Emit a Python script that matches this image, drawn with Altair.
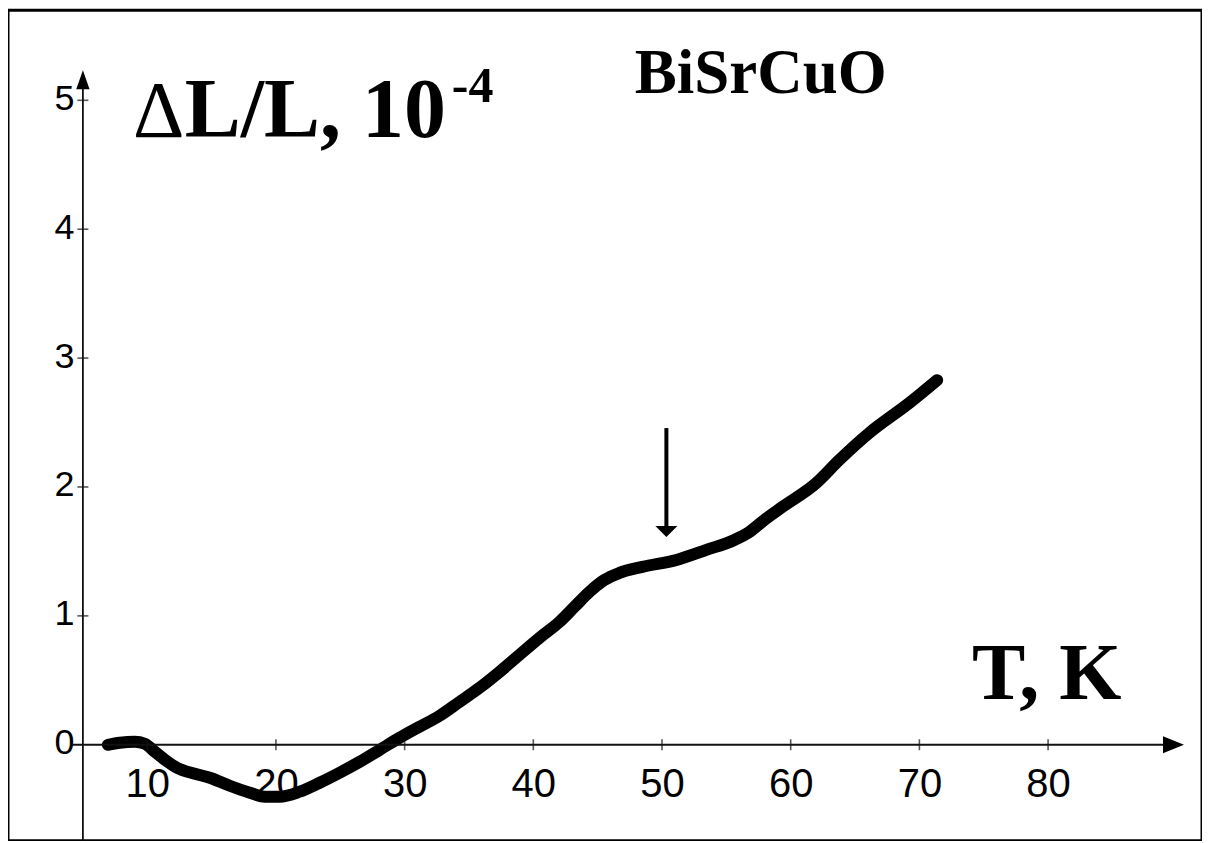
import altair as alt
import pandas as pd

# ---- measured curve: temperature (K) vs relative elongation dL/L (1e-4) ----
temperature_k = [6.94, 7.87, 9.04, 9.81, 10.59, 11.37, 12.30, 13.70, 14.86, 16.41,
                 17.97, 19.13, 20.30, 21.85, 23.40, 24.95, 26.51, 28.06, 29.61, 31.16,
                 32.72, 34.27, 35.82, 37.38, 38.93, 40.48, 42.03, 43.20, 44.36, 45.53,
                 46.69, 48.48, 51.12, 53.45, 55.62, 56.79, 57.95, 59.35, 61.99, 63.77,
                 66.10, 69.21, 71.38]
dl_over_l = [0.00, 0.016, 0.023, 0.008, -0.054, -0.116, -0.178, -0.225, -0.256, -0.318,
             -0.372, -0.403, -0.403, -0.364, -0.295, -0.217, -0.132, -0.039, 0.054, 0.140,
             0.225, 0.333, 0.442, 0.566, 0.698, 0.829, 0.953, 1.070, 1.186, 1.279,
             1.333, 1.380, 1.434, 1.512, 1.589, 1.651, 1.744, 1.845, 2.031, 2.209,
             2.419, 2.651, 2.829]

x_tick_values = [10, 20, 30, 40, 50, 60, 70, 80]
y_tick_values = [0, 1, 2, 3, 4, 5]
y_minor_ticks = [1, 2, 3, 4, 5]

x_domain = [-0.82, 91.96]
y_domain = [-0.744, 5.698]

# axis geometry (data units)
axis_cross_t = [5]
x_axis_span = [4.15, 89.0]
y_axis_span = [-0.744, 5.10]
x_arrow_tip = [90.56]
y_arrow_tip = [5.233]

# arrow marking the anomaly
marker_t = [50.34]
marker_top = [2.457]
marker_base = [1.69]
marker_tip = [1.612]

# annotation texts and anchors (data units)
delta_text = ["\u0394"]
delta_pos = [8.89, 4.713]
ylabel_text = ["L/L, 10"]
ylabel_pos = [12.92, 4.713]
ylabel_exp = ["-4"]
ylabel_exp_pos = [33.67, 4.984]
sample_text = ["BiSrCuO"]
sample_pos = [47.89, 5.054]
xlabel_text = ["T, K"]
xlabel_pos = [74.08, 0.357]

xs = alt.Scale(domain=x_domain, nice=False, zero=False)
ys = alt.Scale(domain=y_domain, nice=False, zero=False)

x_axis = alt.Axis(values=x_tick_values, orient="bottom", offset=-96, domain=False,
                  ticks=False, grid=False, labelFontSize=40, labelFont="Liberation Sans",
                  labelColor="black", labelPadding=20, title=None, labelFlush=False,
                  labelOverlap=False)
y_axis = alt.Axis(values=y_tick_values, orient="left", offset=-75, domain=False,
                  ticks=False, grid=False, labelFontSize=36, labelFont="Liberation Sans",
                  labelColor="black", labelPadding=9, labelOffset=-2, title=None,
                  labelFlush=False, labelOverlap=False)


def X(field):
    return alt.X(f"{field}:Q", scale=xs, axis=x_axis)


def Y(field):
    return alt.Y(f"{field}:Q", scale=ys, axis=y_axis)


curve_df = pd.DataFrame({"T": temperature_k, "v": dl_over_l})
curve = alt.Chart(curve_df).mark_line(
    color="black", strokeWidth=12, strokeCap="round", strokeJoin="round", interpolate="monotone"
).encode(x=X("T"), y=Y("v"))

AXIS_COLOR = "#111111"

x_axis_line = alt.Chart(pd.DataFrame({"a": [x_axis_span[0]], "b": [x_axis_span[1]], "v": [0]})).mark_rule(
    color=AXIS_COLOR, strokeWidth=1.8
).encode(x=X("a"), x2="b:Q", y=Y("v"))

y_axis_line = alt.Chart(pd.DataFrame({"T": axis_cross_t, "a": [y_axis_span[0]], "b": [y_axis_span[1]]})).mark_rule(
    color=AXIS_COLOR, strokeWidth=1.8
).encode(x=X("T"), y=Y("a"), y2="b:Q")

x_ticks_layer = alt.Chart(pd.DataFrame({"T": x_tick_values, "v": [0] * len(x_tick_values)})).mark_tick(
    orient="vertical", size=11, thickness=1.6, color=AXIS_COLOR
).encode(x=X("T"), y=Y("v"))

y_ticks_layer = alt.Chart(pd.DataFrame({"T": axis_cross_t * len(y_minor_ticks), "v": y_minor_ticks})).mark_tick(
    orient="horizontal", size=11, thickness=1.6, color=AXIS_COLOR
).encode(x=X("T"), y=Y("v"))

x_arrow = alt.Chart(pd.DataFrame({"T": x_arrow_tip, "v": [0]})).mark_point(
    shape="M0,0L-1,-0.4L-1,0.4Z", size=1764, filled=True, color="black", opacity=1, strokeWidth=0
).encode(x=X("T"), y=Y("v"))

y_arrow = alt.Chart(pd.DataFrame({"T": axis_cross_t, "v": y_arrow_tip})).mark_point(
    shape="M0,0L-0.35,1L0.35,1Z", size=1444, filled=True, color="black", opacity=1, strokeWidth=0
).encode(x=X("T"), y=Y("v"))

marker_shaft = alt.Chart(pd.DataFrame({"T": marker_t, "a": marker_top, "b": marker_base})).mark_rule(
    color="black", strokeWidth=4
).encode(x=X("T"), y=Y("a"), y2="b:Q")

marker_head = alt.Chart(pd.DataFrame({"T": marker_t, "v": marker_tip})).mark_point(
    shape="M0,0L-1,-1L1,-1Z", size=484, filled=True, color="black", opacity=1, strokeWidth=0
).encode(x=X("T"), y=Y("v"))


def label(text, pos, size, weight="bold"):
    df = pd.DataFrame({"t": text, "T": [pos[0]], "v": [pos[1]]})
    return alt.Chart(df).mark_text(
        align="left", baseline="alphabetic", font="Liberation Serif", fontWeight=weight,
        fontSize=size, color="black"
    ).encode(x=X("T"), y=Y("v"), text="t:N")


texts = (label(delta_text, delta_pos, 80, "normal") + label(ylabel_text, ylabel_pos, 84)
         + label(ylabel_exp, ylabel_exp_pos, 50)
         + label(sample_text, sample_pos, 63) + label(xlabel_text, xlabel_pos, 80))

chart = alt.layer(
    curve, x_axis_line, y_axis_line, x_ticks_layer, y_ticks_layer, x_arrow, y_arrow,
    marker_shaft, marker_head, texts
).properties(
    width=1195, height=831,
    padding={"left": 0, "top": 2, "right": 0, "bottom": 0},
    autosize=alt.AutoSizeParams(type="none"),
    background="white",
).configure_view(stroke="black", strokeWidth=3)

chart.save("out.html", embed_options={"renderer": "svg", "actions": False})
